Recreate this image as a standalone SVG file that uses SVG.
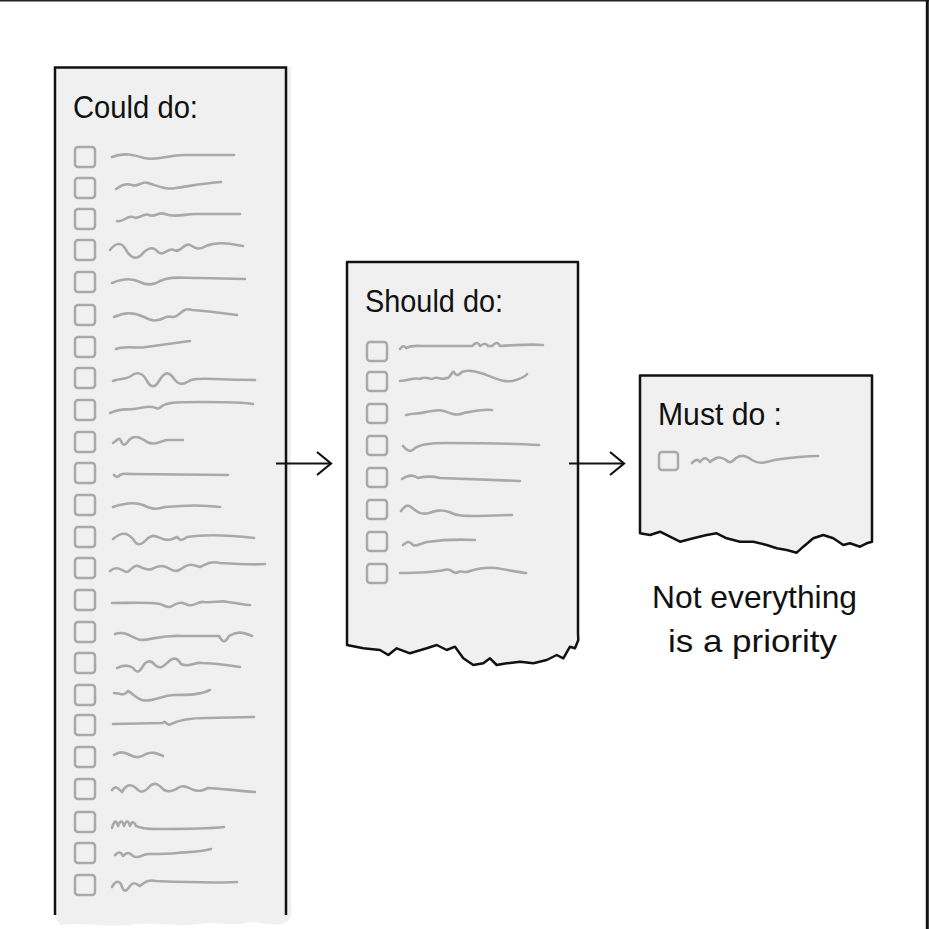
<svg xmlns="http://www.w3.org/2000/svg" width="929" height="929" viewBox="0 0 929 929">
<defs>
<style>
.paper{fill:#f0f0f0;stroke:#111;stroke-width:2.5;stroke-linejoin:round}
.edge{fill:none;stroke:#111;stroke-width:2.5}
.cb{fill:none;stroke:#a9a9a9;stroke-width:2.5}
.sq{fill:none;stroke:#a9a9a9;stroke-width:2.6;stroke-linecap:round;stroke-linejoin:round}
.title{font-family:"Liberation Sans",Arial,sans-serif;font-size:31px;fill:#111}
.cap{font-family:"Liberation Sans",Arial,sans-serif;font-size:32px;fill:#111}
.conn{fill:none;stroke:#111;stroke-width:2.2}
</style>
<marker id="ah" markerUnits="userSpaceOnUse" markerWidth="20" markerHeight="28" refX="16" refY="13" orient="auto" viewBox="0 0 20 26">
<path d="M2,1.5 L16,13 L2,24.5" fill="none" stroke="#111" stroke-width="2.2"/>
</marker>
</defs>
<rect width="929" height="929" fill="#fff"/>
<path d="M0,0.8 H929" stroke="#222" stroke-width="1.6"/>
<path d="M927.3,0 V929" stroke="#111" stroke-width="3"/>

<g id="could-do">
<path d="M55,67 H291 V905 C293,915 290,922 282,924 C270,926 255,920 245,923 C230,927 215,921 200,924 C170,927 150,921 130,925 C100,927 80,922 60,925 L55,918 Z" fill="#f0f0f0"/>
<path class="edge" d="M55,915 V67.5 H286 V915"/>
<text class="title" x="73" y="118" textLength="125" lengthAdjust="spacingAndGlyphs">Could do:</text>
<g>
<rect class="cb" x="75" y="147" width="20" height="20" rx="3"/>
<rect class="cb" x="75" y="178" width="20" height="20" rx="3"/>
<rect class="cb" x="75" y="209" width="20" height="20" rx="3"/>
<rect class="cb" x="75" y="240" width="20" height="20" rx="3"/>
<rect class="cb" x="75" y="272" width="20" height="20" rx="3"/>
<rect class="cb" x="75" y="305" width="20" height="20" rx="3"/>
<rect class="cb" x="75" y="337" width="20" height="20" rx="3"/>
<rect class="cb" x="75" y="368" width="20" height="20" rx="3"/>
<rect class="cb" x="75" y="400" width="20" height="20" rx="3"/>
<rect class="cb" x="75" y="432" width="20" height="20" rx="3"/>
<rect class="cb" x="75" y="463" width="20" height="20" rx="3"/>
<rect class="cb" x="75" y="495" width="20" height="20" rx="3"/>
<rect class="cb" x="75" y="527" width="20" height="20" rx="3"/>
<rect class="cb" x="75" y="558" width="20" height="20" rx="3"/>
<rect class="cb" x="75" y="590" width="20" height="20" rx="3"/>
<rect class="cb" x="75" y="622" width="20" height="20" rx="3"/>
<rect class="cb" x="75" y="653" width="20" height="20" rx="3"/>
<rect class="cb" x="75" y="685" width="20" height="20" rx="3"/>
<rect class="cb" x="75" y="715" width="20" height="20" rx="3"/>
<rect class="cb" x="75" y="747" width="20" height="20" rx="3"/>
<rect class="cb" x="75" y="779" width="20" height="20" rx="3"/>
<rect class="cb" x="75" y="812" width="20" height="20" rx="3"/>
<rect class="cb" x="75" y="843" width="20" height="20" rx="3"/>
<rect class="cb" x="75" y="875" width="20" height="20" rx="3"/>
</g>
<g>
<path class="sq" d="M112,157 c12,-5 22,-2 32,1 c14,3 24,-3 40,-3 c20,0 35,0 50,0"/>
<path class="sq" d="M116,189 c6,-4 10,-6 16,-4 c6,3 10,-5 16,-2 c10,3 18,7 28,5 c14,-2 28,-5 45,-6"/>
<path class="sq" d="M117,221 c6,2 10,-6 16,-4 c6,4 10,-5 16,-2 c6,3 10,-4 16,-1 c10,4 20,0 30,0 l45,0"/>
<path class="sq" d="M110,250 c6,-8 12,-8 16,0 c6,10 12,10 18,2 c6,-5 10,-5 14,0 c6,5 10,-5 16,-2 c6,4 10,-8 16,-5 c6,4 10,5 16,1 c12,-5 25,-2 37,0"/>
<path class="sq" d="M112,283 c12,-5 20,-5 28,-1 c8,4 14,3 20,-1 c10,-5 20,-3 40,-3 l45,1"/>
<path class="sq" d="M114,317 c10,-5 20,-5 30,0 c8,4 12,5 20,1 c6,-4 8,2 14,-3 c6,-5 8,-7 14,-5 c14,1 30,3 45,5"/>
<path class="sq" d="M116,349 c10,-4 20,0 30,-2 c15,-2 30,-4 44,-6"/>
<path class="sq" d="M113,381 c6,-3 12,-1 18,-5 c6,-5 12,-3 16,5 c4,7 8,7 12,0 c6,-10 10,-10 16,-1 c6,7 10,3 16,0 c10,-3 20,0 64,0"/>
<path class="sq" d="M110,413 c10,-5 16,-3 24,-4 c8,-1 12,-3 18,-2 c6,1 6,3 10,-1 c6,-4 18,-4 40,-4 c20,0 40,0 51,2"/>
<path class="sq" d="M113,443 c4,-2 6,-7 8,-2 c2,5 4,5 8,-1 c6,-6 12,-2 18,2 c8,4 14,-1 20,-2 c6,0 12,0 16,0"/>
<path class="sq" d="M114,475 c2,2 4,3 6,0 c4,-2 6,-1 10,-1 l98,1"/>
<path class="sq" d="M113,507 c12,-4 22,-5 30,-2 c8,4 12,5 22,2 c20,-2 40,-2 55,0"/>
<path class="sq" d="M113,539 c8,-7 14,-7 20,0 c4,7 8,7 14,0 c6,-6 10,-2 16,0 c6,2 10,0 14,-2 c4,4 4,4 10,0 c20,-3 50,-1 67,1"/>
<path class="sq" d="M110,571 c6,-5 10,-2 14,0 c6,4 8,-7 14,-5 c6,2 8,5 14,3 c8,-4 12,-4 18,0 c6,4 10,1 14,-2 c6,-4 10,-2 16,0 c8,-4 12,-6 20,-4 c16,1 32,2 45,1"/>
<path class="sq" d="M112,603 c20,0 40,-1 48,1 c6,2 8,5 14,1 c6,-4 10,-2 14,0 c6,2 10,-4 16,-3 c10,1 18,-2 24,0 c10,1 16,3 22,3"/>
<path class="sq" d="M115,634 c12,-4 18,5 26,6 c10,0 20,-5 40,-4 l38,0 c4,7 6,7 10,0 c8,-5 14,-4 23,0"/>
<path class="sq" d="M117,668 c6,-3 12,-3 16,0 c4,5 6,5 10,-2 c4,-6 8,-6 12,-1 c6,5 8,1 12,-2 c6,-6 10,-6 14,1 c8,4 14,-2 20,-1 c12,0 26,2 39,4"/>
<path class="sq" d="M114,693 c6,0 10,4 14,-2 c4,2 8,7 14,9 c10,3 20,-5 32,-5 c14,0 26,0 36,-5"/>
<path class="sq" d="M113,724 l50,-1 c2,-4 4,4 8,1 c10,-5 20,-6 35,-6 l48,-1"/>
<path class="sq" d="M114,755 c6,-4 10,-3 16,0 c6,3 10,3 16,-1 c8,-3 12,0 17,2"/>
<path class="sq" d="M112,790 c4,-5 6,-2 10,2 c4,-7 8,-9 14,-4 c4,5 8,5 14,-2 c6,-5 10,0 14,4 c6,3 10,0 14,-2 c6,-4 10,0 16,2 c6,2 10,0 14,-2 c10,0 28,3 47,4"/>
<path class="sq" d="M112,828 c2,-7 4,-9 6,-2 c2,-5 4,-7 6,0 c2,-5 4,-7 6,0 c2,-5 4,-5 6,0 c4,2 10,3 20,3 c25,0 50,0 68,-2"/>
<path class="sq" d="M115,855 c4,-4 6,-3 8,1 c4,-4 6,-4 10,0 c6,4 10,-3 16,-2 c10,0 20,0 28,-1 c12,-1 24,-1 34,-4"/>
<path class="sq" d="M112,887 c4,-7 8,-7 10,0 c2,5 4,5 8,-1 c4,-5 6,-2 10,0 c4,-3 8,-7 16,-5 c24,1 60,2 81,1"/>
</g>
</g>

<g id="should-do">
<path class="paper" d="M347,262 H578 V633 L578.3,640 L575,648.3 L570,646.7 L563.3,658.3 L556.7,655 L546.7,660 L533.3,663.3 L520,661.7 L506.7,663.3 L496.7,665 L490,658.3 L483.3,663.3 L473.3,665 L463.3,658.3 L455,646.7 L446.7,650 L436.7,645 L426.7,648.3 L410,653.3 L396.7,648.3 L388.3,655 L380,650 L363.3,648.3 L347,645 Z"/>
<text class="title" x="365" y="312" textLength="138" lengthAdjust="spacingAndGlyphs">Should do:</text>
<rect class="cb" x="367" y="342" width="20" height="19" rx="3"/>
<rect class="cb" x="367" y="372" width="20" height="19" rx="3"/>
<rect class="cb" x="367" y="404" width="20" height="19" rx="3"/>
<rect class="cb" x="367" y="436" width="20" height="19" rx="3"/>
<rect class="cb" x="367" y="468" width="20" height="19" rx="3"/>
<rect class="cb" x="367" y="500" width="20" height="19" rx="3"/>
<rect class="cb" x="367" y="532" width="20" height="19" rx="3"/>
<rect class="cb" x="367" y="564" width="20" height="19" rx="3"/>
<path class="sq" d="M400,349 c2,-3 4,-4 6,-1 c6,-3 10,-2 16,-2 l50,0 c4,-4 6,-4 8,0 c4,-3 6,-3 8,0 l4,0 c4,-4 6,-4 8,0 c16,-1 32,-2 43,-1"/>
<path class="sq" d="M400,381 c8,0 14,-4 20,-2 c6,-3 8,0 12,0 c6,-4 8,2 14,-1 c4,2 6,-8 8,-6 c2,4 4,4 8,0 c8,-3 14,0 22,2 c10,4 22,10 32,6 c6,-2 10,-4 11,-6"/>
<path class="sq" d="M406,415 c8,-2 14,-1 20,-3 c8,-1 12,-3 18,-1 c8,3 12,5 20,2 c10,-2 18,-4 28,-3"/>
<path class="sq" d="M403,446 c4,5 8,7 12,2 c6,-4 16,-5 30,-5 c30,0 60,0 94,2"/>
<path class="sq" d="M402,479 c6,-4 12,-4 16,-1 c8,-2 14,-2 22,0 c20,1 50,2 80,3"/>
<path class="sq" d="M401,511 c4,-5 6,-7 10,-4 c6,5 10,8 18,6 c6,-2 12,-4 20,-1 c8,4 14,4 30,4 l33,-1"/>
<path class="sq" d="M403,545 c4,-3 6,-5 10,0 c4,2 8,-2 14,-3 c14,-2 30,-3 48,-2"/>
<path class="sq" d="M400,573 c16,0 30,0 44,-3 c8,-3 10,6 14,2 c4,-2 6,2 12,-1 c10,-3 16,-4 26,-3 c12,2 20,4 30,5"/>
</g>

<g id="must-do">
<path class="paper" d="M640,375.5 H872 V541.7 L866.7,543.3 L860,546.7 L850,543.3 L843.3,545 L833.3,538.3 L823.3,535 L813.3,538.3 L803.3,546.7 L796.7,552.7 L786.7,550 L776.7,548.3 L766.7,545 L753.3,541.7 L740,541.7 L726.7,538.3 L716.7,533.3 L706.7,535 L693.3,538.3 L680,541.7 L670,536.7 L660,531.7 L650,535 L640,533.3 Z"/>
<text class="title" x="658" y="425" textLength="124" lengthAdjust="spacingAndGlyphs">Must do :</text>
<rect class="cb" x="659" y="452" width="19" height="18" rx="3"/>
<path class="sq" d="M692,463 c4,-4 6,-4 8,-1 c4,-5 6,-5 10,0 c6,-5 10,-6 16,-2 c4,4 6,2 10,-2 c6,-4 10,-2 16,2 c8,5 14,2 22,0 c14,-2 30,-4 44,-4"/>
</g>

<g id="caption">
<text class="cap" x="652" y="608" textLength="205" lengthAdjust="spacingAndGlyphs">Not everything</text>
<text class="cap" x="668" y="652" textLength="169" lengthAdjust="spacingAndGlyphs">is a priority</text>
</g>

<g id="connectors">
<path class="conn" d="M276,463.5 H331" marker-end="url(#ah)"/>
<path class="conn" d="M569,463.5 H624" marker-end="url(#ah)"/>
</g>
</svg>
